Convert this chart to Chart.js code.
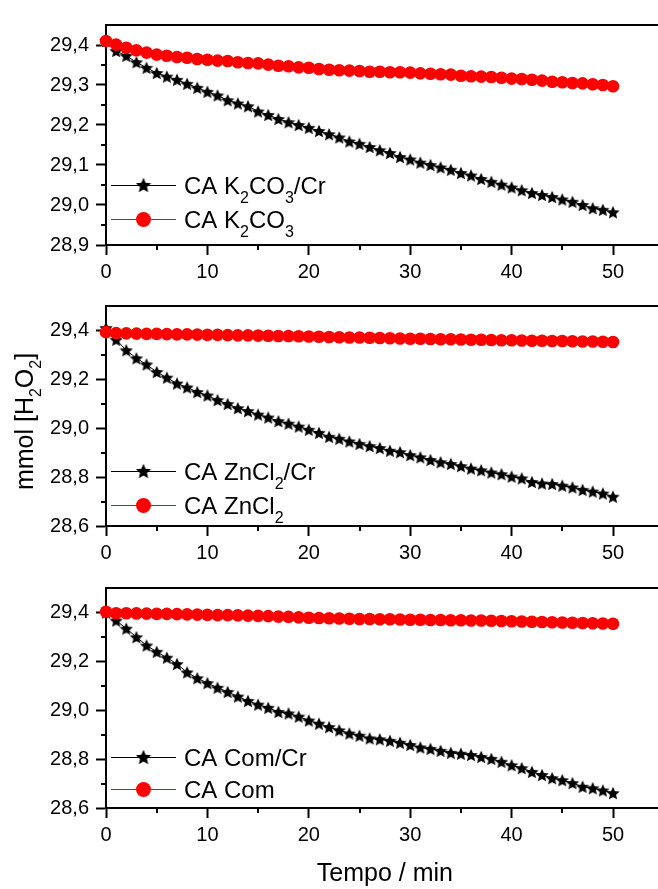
<!DOCTYPE html>
<html>
<head>
<meta charset="utf-8">
<script src="https://cdn.jsdelivr.net/npm/chart.js@4.4.0/dist/chart.umd.min.js"></script>
<style>
  html, body { margin: 0; padding: 0; background: #fff; width: 658px; height: 889px; overflow: hidden; }
  canvas { position: absolute; left: 0; }
</style>
</head>
<body>
<canvas id="c1" width="670" height="279" style="top:6px"></canvas>
<canvas id="c2" width="670" height="279" style="top:287px"></canvas>
<canvas id="c3" width="670" height="320" style="top:569px"></canvas>
<script>
// Time axis (min)
const minutes = [0,1,2,3,4,5,6,7,8,9,10,11,12,13,14,15,16,17,18,19,20,21,22,23,24,25,
  26,27,28,29,30,31,32,33,34,35,36,37,38,39,40,41,42,43,44,45,46,47,48,49,50];

// mmol H2O2 remaining, CA K2CO3
const k2co3Cr = [29.410,29.385,29.373,29.357,29.343,29.330,29.321,29.313,29.303,29.293,
  29.283,29.274,29.262,29.254,29.247,29.234,29.225,29.215,29.207,29.200,29.193,29.185,
  29.177,29.169,29.159,29.153,29.145,29.137,29.130,29.120,29.114,29.106,29.100,29.094,
  29.088,29.080,29.074,29.065,29.058,29.051,29.044,29.037,29.030,29.025,29.020,29.014,
  29.008,29.000,28.992,28.988,28.982];
const k2co3 = [29.410,29.401,29.393,29.387,29.381,29.376,29.373,29.370,29.368,29.365,
  29.363,29.361,29.360,29.357,29.355,29.354,29.351,29.348,29.347,29.344,29.343,29.340,
  29.338,29.337,29.336,29.335,29.333,29.333,29.332,29.332,29.331,29.329,29.328,29.327,
  29.326,29.323,29.322,29.321,29.320,29.318,29.316,29.315,29.313,29.311,29.308,29.307,
  29.305,29.304,29.302,29.300,29.297];

// mmol H2O2 remaining, CA ZnCl2
const zncl2Cr = [29.410,29.362,29.319,29.286,29.261,29.230,29.207,29.183,29.167,29.148,
  29.134,29.115,29.099,29.082,29.070,29.056,29.044,29.029,29.019,29.007,28.994,28.981,
  28.965,28.957,28.946,28.936,28.927,28.919,28.908,28.902,28.890,28.881,28.870,28.861,
  28.854,28.845,28.835,28.828,28.819,28.812,28.802,28.795,28.780,28.774,28.772,28.765,
  28.758,28.748,28.741,28.733,28.720];
const zncl2 = [29.393,29.389,29.388,29.387,29.386,29.386,29.385,29.384,29.384,29.383,
  29.382,29.382,29.381,29.380,29.380,29.379,29.378,29.377,29.377,29.376,29.375,29.374,
  29.373,29.372,29.371,29.371,29.370,29.369,29.368,29.367,29.366,29.366,29.365,29.364,
  29.364,29.363,29.362,29.362,29.361,29.360,29.360,29.359,29.358,29.358,29.357,29.357,
  29.356,29.355,29.355,29.354,29.353];

// mmol H2O2 remaining, CA Com
const comCr = [29.400,29.367,29.334,29.299,29.265,29.239,29.215,29.189,29.155,29.131,
  29.111,29.092,29.075,29.056,29.038,29.023,29.010,28.993,28.987,28.974,28.958,28.945,
  28.931,28.918,28.905,28.896,28.885,28.881,28.875,28.867,28.858,28.848,28.842,28.834,
  28.826,28.822,28.817,28.809,28.801,28.789,28.775,28.763,28.748,28.735,28.722,28.714,
  28.702,28.687,28.681,28.672,28.661];
const com = [29.403,29.397,29.397,29.396,29.395,29.394,29.394,29.393,29.392,29.391,
  29.390,29.389,29.389,29.388,29.387,29.386,29.385,29.383,29.382,29.380,29.378,29.377,
  29.376,29.375,29.374,29.373,29.373,29.372,29.372,29.371,29.370,29.370,29.369,29.369,
  29.368,29.368,29.367,29.367,29.366,29.365,29.364,29.363,29.362,29.361,29.360,29.359,
  29.358,29.357,29.356,29.355,29.354];

// Axis ticks
const xTicks = [0,10,20,30,40,50];
const xMinor = [5,15,25,35,45];
const yTicksTop = [28.9,29.0,29.1,29.2,29.3,29.4];
const yMinorTop = [28.95,29.05,29.15,29.25,29.35];
const yTicksLow = [28.6,28.8,29.0,29.2,29.4];
const yMinorLow = [28.7,28.9,29.1,29.3];

// Legend labels ("_" marks a one-character subscript)
const labelsTop = ['CA K_2CO_3/Cr', 'CA K_2CO_3'];
const labelsMid = ['CA ZnCl_2/Cr', 'CA ZnCl_2'];
const labelsLow = ['CA Com/Cr', 'CA Com'];
const yTitle = 'mmol [H_2O_2]';
const xTitle = 'Tempo / min';

const FONT = "'Liberation Sans', Arial, sans-serif";
Chart.defaults.font.family = FONT;
Chart.defaults.color = '#000';

function starImage(size) {
  const c = document.createElement('canvas');
  c.width = size; c.height = size;
  const g = c.getContext('2d');
  const R = size / 2, r = R * 0.46, cy = R + R * 0.1;
  g.beginPath();
  for (let i = 0; i < 10; i++) {
    const a = -Math.PI / 2 + i * Math.PI / 5;
    const rr = i % 2 ? r : R;
    g.lineTo(R + rr * Math.cos(a), cy + rr * Math.sin(a));
  }
  g.closePath();
  g.fillStyle = '#000';
  g.fill();
  return c;
}
const starSmall = starImage(14);
const starLegend = starImage(16);

function parseRich(str) {
  const parts = [];
  let buf = '';
  for (let i = 0; i < str.length; i++) {
    if (str[i] === '_' && i + 1 < str.length) {
      if (buf) parts.push({ t: buf, sub: false });
      buf = '';
      parts.push({ t: str[i + 1], sub: true });
      i++;
    } else buf += str[i];
  }
  if (buf) parts.push({ t: buf, sub: false });
  return parts;
}

function richWidth(ctx, parts, size, subSize) {
  let w = 0;
  for (const p of parts) {
    ctx.font = (p.sub ? subSize : size) + 'px ' + FONT;
    w += ctx.measureText(p.t).width;
  }
  return w;
}

function drawRich(ctx, str, x, y, size, subSize, subDrop) {
  const parts = parseRich(str);
  ctx.textBaseline = 'alphabetic';
  ctx.textAlign = 'left';
  ctx.fillStyle = '#000';
  let cx = x;
  for (const p of parts) {
    ctx.font = (p.sub ? subSize : size) + 'px ' + FONT;
    ctx.fillText(p.t, cx, p.sub ? y + subDrop : y);
    cx += ctx.measureText(p.t).width;
  }
}

// Frame, minor ticks, legend and rotated axis title
const decoPlugin = {
  id: 'deco',
  beforeDatasetsDraw(chart, args, opts) {
    const ctx = chart.ctx;
    const { left, right, top, bottom } = chart.chartArea;
    const xs = chart.scales.x, ys = chart.scales.y;
    ctx.save();
    ctx.strokeStyle = '#000';
    ctx.lineWidth = 2;
    ctx.beginPath();
    ctx.moveTo(left - 1, top);
    ctx.lineTo(right, top);
    ctx.lineTo(right, bottom);
    ctx.stroke();
    ctx.beginPath();
    for (const v of opts.xMinor) {
      const px = Math.round(xs.getPixelForValue(v));
      ctx.moveTo(px, bottom);
      ctx.lineTo(px, bottom + 5);
    }
    for (const v of opts.yMinor) {
      const py = Math.round(ys.getPixelForValue(v));
      ctx.moveTo(left, py);
      ctx.lineTo(left - 5, py);
    }
    ctx.stroke();
    ctx.restore();
  },
  afterDraw(chart, args, opts) {
    const ctx = chart.ctx;
    const { left, bottom } = chart.chartArea;
    ctx.save();
    opts.legend.forEach(item => {
      const y = Math.round(bottom + item.dy);
      ctx.strokeStyle = item.color;
      ctx.lineWidth = 1;
      ctx.beginPath();
      ctx.moveTo(left + 5, y + 0.5);
      ctx.lineTo(left + 70, y + 0.5);
      ctx.stroke();
      const mx = left + 37.5;
      if (item.marker === 'star') {
        ctx.drawImage(starLegend, mx - starLegend.width / 2, y - starLegend.height / 2);
      } else {
        ctx.fillStyle = item.color;
        ctx.beginPath();
        ctx.arc(mx, y + 0.5, 7.5, 0, Math.PI * 2);
        ctx.fill();
      }
      drawRich(ctx, item.label, left + 78, y + 9, 24, 16, 9);
    });
    if (opts.yTitle) {
      ctx.translate(opts.yTitle.x, opts.yTitle.y);
      ctx.rotate(-Math.PI / 2);
      const w = richWidth(ctx, parseRich(opts.yTitle.text), 25, 16);
      drawRich(ctx, opts.yTitle.text, -w / 2, 0, 25, 16, 8);
    }
    ctx.restore();
  }
};

function makePanel(id, cfg) {
  const series = [
    { label: cfg.labels[1], data: cfg.red, color: '#ff0000', style: 'circle' },
    { label: cfg.labels[0], data: cfg.black, color: '#000000', style: starSmall }
  ];
  const canvas = document.getElementById(id);
  return new Chart(canvas, {
    type: 'line',
    data: {
      datasets: series.map(s => ({
        label: s.label,
        data: minutes.map((m, i) => ({ x: m, y: s.data[i] })),
        borderColor: s.color,
        backgroundColor: s.color,
        borderWidth: 1,
        pointStyle: s.style,
        pointRadius: 6.3,
        pointBorderWidth: 0,
        pointHoverRadius: 6.3,
        tension: 0,
        clip: false
      }))
    },
    plugins: [decoPlugin],
    options: {
      responsive: false,
      animation: false,
      events: [],
      layout: { padding: { top: 10, right: 3, left: 0, bottom: 0 } },
      scales: {
        x: {
          type: 'linear',
          min: 0,
          max: 55,
          afterBuildTicks: s => { s.ticks = xTicks.map(v => ({ value: v })); },
          afterFit: s => { s.height = cfg.xHeight; },
          ticks: { font: { size: 20 }, color: '#000', padding: 5, maxRotation: 0,
                   callback: v => String(v) },
          grid: { display: true, drawOnChartArea: false, drawTicks: true,
                  tickLength: 10, tickWidth: 2, tickColor: '#000' },
          border: { display: true, width: 2, color: '#000' },
          title: cfg.xTitle ? { display: true, text: cfg.xTitle, font: { size: 25 },
                                color: '#000', padding: { top: 0, bottom: 0 } } : { display: false }
        },
        y: {
          type: 'linear',
          min: cfg.yMin,
          max: cfg.yMax,
          afterBuildTicks: s => { s.ticks = cfg.yTicks.map(v => ({ value: v })); },
          afterFit: s => { s.width = 106; },
          ticks: { font: { size: 20 }, color: '#000', padding: 7,
                   callback: v => v.toFixed(1).replace('.', ',') },
          grid: { display: true, drawOnChartArea: false, drawTicks: true,
                  tickLength: 10, tickWidth: 2, tickColor: '#000' },
          border: { display: true, width: 2, color: '#000' }
        }
      },
      plugins: {
        legend: { display: false },
        tooltip: { enabled: false },
        deco: {
          xMinor: xMinor,
          yMinor: cfg.yMinor,
          legend: [
            { label: cfg.labels[0], color: '#000000', marker: 'star', dy: cfg.legendDy[0] },
            { label: cfg.labels[1], color: '#ff0000', marker: 'circle', dy: cfg.legendDy[1] }
          ],
          yTitle: cfg.yTitle || null
        }
      }
    }
  });
}

makePanel('c1', {
  black: k2co3Cr, red: k2co3, labels: labelsTop,
  yMin: 28.9, yMax: 29.45, yTicks: yTicksTop, yMinor: yMinorTop,
  xHeight: 40, legendDy: [-60, -26]
});
makePanel('c2', {
  black: zncl2Cr, red: zncl2, labels: labelsMid,
  yMin: 28.6, yMax: 29.5, yTicks: yTicksLow, yMinor: yMinorLow,
  xHeight: 40, legendDy: [-55, -21],
  yTitle: { text: yTitle, x: 33, y: 134.5 }
});
makePanel('c3', {
  black: comCr, red: com, labels: labelsLow,
  yMin: 28.6, yMax: 29.5, yTicks: yTicksLow, yMinor: yMinorLow,
  xHeight: 81, legendDy: [-51, -19], xTitle: xTitle
});
</script>
</body>
</html>
